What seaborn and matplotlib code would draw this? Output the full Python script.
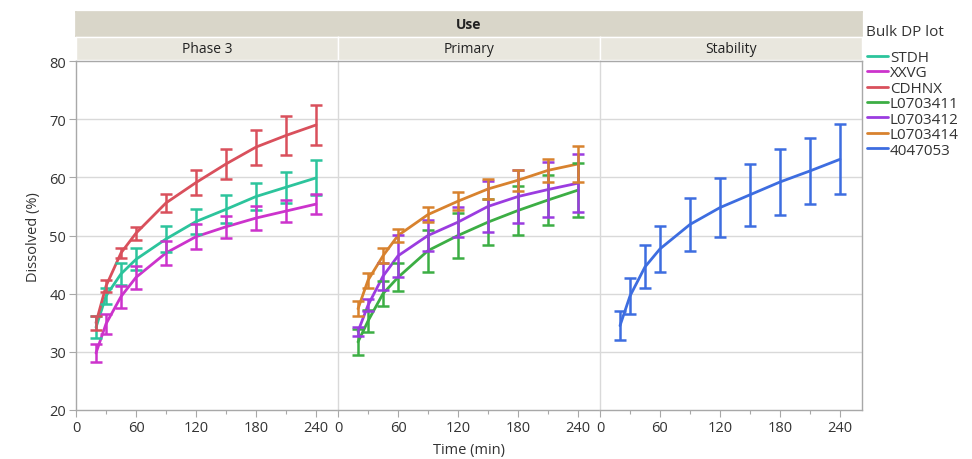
import numpy as np
import pandas as pd
import matplotlib
matplotlib.use("Agg")
import matplotlib.pyplot as plt
import seaborn as sns
from matplotlib.ticker import MultipleLocator
from matplotlib.lines import Line2D

# sampling times (min)
times = [20, 30, 45, 60, 90, 120, 150, 180, 210, 240]
uses = ["Phase 3", "Primary", "Stability"]
lots = ["STDH", "XXVG", "CDHNX", "L0703411", "L0703412", "L0703414", "4047053"]
lot_use = ["Phase 3", "Phase 3", "Phase 3", "Primary", "Primary", "Primary", "Stability"]

# mean dissolved (%) per lot
stdh_mean = [34.2, 39.6, 43.4, 45.9, 49.4, 52.4, 54.5, 56.7, 58.3, 59.9]
xxvg_mean = [29.8, 34.8, 39.5, 42.8, 47.0, 49.8, 51.5, 53.0, 54.2, 55.4]
cdhnx_mean = [35.0, 41.3, 47.0, 50.4, 55.6, 59.1, 62.3, 65.2, 67.2, 69.0]
l411_mean = [31.7, 35.3, 40.0, 42.8, 47.4, 50.0, 52.3, 54.3, 56.1, 57.8]
l412_mean = [33.5, 38.0, 43.0, 46.5, 50.0, 52.3, 55.0, 56.7, 57.9, 59.0]
l414_mean = [37.4, 42.3, 46.5, 50.0, 53.6, 55.9, 58.0, 59.5, 61.2, 62.3]
b405_mean = [34.5, 39.6, 44.6, 47.7, 51.9, 54.8, 57.0, 59.2, 61.1, 63.1]

# error bar half widths
stdh_sd = [1.9, 1.4, 1.9, 1.9, 2.3, 2.2, 2.4, 2.3, 2.7, 3.0]
xxvg_sd = [1.6, 1.7, 1.9, 2.0, 2.0, 2.1, 1.9, 2.0, 1.9, 1.7]
cdhnx_sd = [1.2, 1.0, 0.9, 1.1, 1.5, 2.1, 2.6, 3.0, 3.3, 3.5]
l411_sd = [2.2, 1.9, 2.2, 2.4, 3.6, 3.8, 4.0, 4.2, 4.3, 4.7]
l412_sd = [0.8, 1.0, 2.3, 3.6, 2.7, 2.6, 4.4, 4.6, 4.7, 5.0]
l414_sd = [1.3, 1.3, 1.3, 1.2, 1.3, 1.6, 1.7, 1.8, 2.0, 3.1]
b405_sd = [2.5, 3.1, 3.7, 4.0, 4.6, 5.0, 5.3, 5.7, 5.7, 6.0]

means = [stdh_mean, xxvg_mean, cdhnx_mean, l411_mean, l412_mean, l414_mean, b405_mean]
sds = [stdh_sd, xxvg_sd, cdhnx_sd, l411_sd, l412_sd, l414_sd, b405_sd]

colors = ["#2cc49c", "#cc33cc", "#d9505c", "#3cae44", "#9b3ce0", "#d8822e", "#3d6de0"]
palette = dict(zip(lots, colors))

rows = []
for lot, use, m, s in zip(lots, lot_use, means, sds):
    for t, mv, sv in zip(times, m, s):
        rows.append({"lot": lot, "use": use, "time": t, "dissolved": mv, "sd": sv})
df = pd.DataFrame(rows)

sns.set_theme(style="white")
plt.rcParams['font.family'] = ['Open Sans', 'DejaVu Sans']

W, H = 972, 460
fig = plt.figure(figsize=(W / 100, H / 100), dpi=100)

x0, x1 = 76, 862
top, bot = 62, 411
pw = (x1 - x0) / 3
grid_c = "#d9d9d9"
frame_c = "#a8a8a8"
txt_c = "#333333"

# "Use" header strip
sax = fig.add_axes([x0 / W, 1 - 37 / H, (x1 - x0) / W, 24 / H])
sax.set_facecolor("#d9d6c9")
sax.set_xticks([]); sax.set_yticks([])
for s in sax.spines.values():
    s.set_color("#d9d6c9")
sax.text(0.5, 0.5, "Use", ha="center", va="center", fontsize=10, fontweight="bold",
         color="#222222", transform=sax.transAxes)

axes = []
for i, use in enumerate(uses):
    left = x0 + i * pw
    # panel label strip
    lax = fig.add_axes([left / W, 1 - 61 / H, pw / W, 23 / H])
    lax.set_facecolor("#e9e7de")
    lax.set_xticks([]); lax.set_yticks([])
    for s in lax.spines.values():
        s.set_color("#ffffff")
        s.set_linewidth(1.0)
    lax.text(0.5, 0.5, use, ha="center", va="center", fontsize=10, color="#222222",
             transform=lax.transAxes)

    ax = fig.add_axes([left / W, 1 - bot / H, pw / W, (bot - top) / H])
    axes.append(ax)
    sub = df[df["use"] == use]
    sns.lineplot(data=sub, x="time", y="dissolved", hue="lot", palette=palette,
                 linewidth=2, ax=ax, legend=False, errorbar=None)
    for lot in sub["lot"].unique():
        d = sub[sub["lot"] == lot]
        ax.errorbar(d["time"], d["dissolved"], yerr=d["sd"], fmt="none",
                    ecolor=palette[lot], elinewidth=1.8, capsize=4, capthick=1.8)

    ax.set_xlim(0, 262)
    ax.set_ylim(20, 80)
    ax.set_xticks([0, 60, 120, 180, 240])
    ax.xaxis.set_minor_locator(MultipleLocator(30))
    ax.set_yticks([20, 30, 40, 50, 60, 70, 80])
    for yv in [30, 40, 50, 60, 70]:
        ax.axhline(yv, color=grid_c, linewidth=1, zorder=0)
    ax.set_xlabel("")
    ax.set_ylabel("")
    ax.tick_params(axis="x", which="major", direction="out", length=5, width=0.8,
                   color=frame_c, labelsize=10.5, labelcolor=txt_c, pad=2, bottom=True)
    ax.tick_params(axis="x", which="minor", direction="out", length=3, width=0.8,
                   color=frame_c, bottom=True)
    if i == 0:
        ax.tick_params(axis="y", direction="out", length=5, width=0.8, color=frame_c,
                       labelsize=10.5, labelcolor=txt_c, pad=2, left=True)
    else:
        ax.tick_params(axis="y", left=False, labelleft=False)
    for name, s in ax.spines.items():
        s.set_linewidth(1.0)
        s.set_color(frame_c)
    if i > 0:
        ax.spines["left"].set_color(grid_c)
    if i < 2:
        ax.spines["right"].set_visible(False)

fig.text(469 / W, 1 - 451 / H, "Time (min)", ha="center", va="center", fontsize=10.5, color=txt_c)
fig.text(33 / W, 1 - 237 / H, "Dissolved (%)", ha="center", va="center", rotation=90,
         fontsize=10.5, color=txt_c)

# legend title placed separately to get the wider gap above the entries
fig.text(866 / W, 1 - 33 / H, "Bulk DP lot", ha="left", va="center", fontsize=11, color=txt_c)
handles = [Line2D([0], [0], color=palette[l], linewidth=2) for l in lots]
leg = fig.legend(handles, lots, loc="upper left",
                 bbox_to_anchor=(867 / W, 1 - 51 / H), frameon=False, fontsize=11,
                 handlelength=1.4, handletextpad=0.1,
                 labelspacing=0.03, borderpad=0, borderaxespad=0)
for t in leg.get_texts():
    t.set_color(txt_c)

fig.savefig("out.png", dpi=100, facecolor="white")
